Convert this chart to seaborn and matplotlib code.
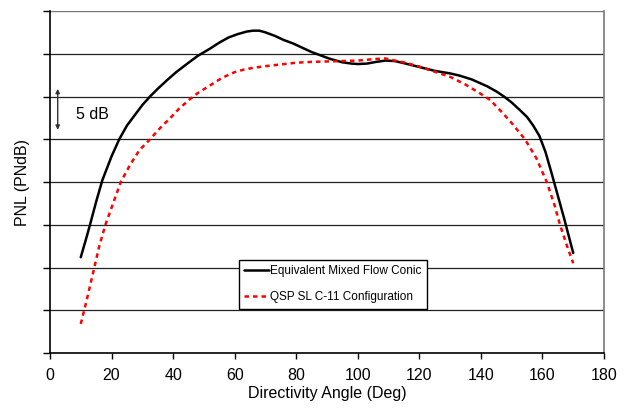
import numpy as np
import pandas as pd
import matplotlib
matplotlib.use("Agg")
import matplotlib.pyplot as plt
import seaborn as sns

# Directivity angles (deg) and relative PNL levels (dB) for each configuration
conic_angle = [10, 12, 13, 15, 17, 20, 22.5, 25, 27.5, 30, 32.5, 35, 38, 41,
               45, 48, 52, 55, 58, 61, 64, 66, 68, 70, 73, 76, 79, 82, 85, 88,
               91, 95, 98, 100, 103, 106, 109, 112, 115, 120, 125, 130, 133,
               137, 142, 145, 147.5, 150, 153, 155, 157, 159, 161, 163, 165,
               167, 170]
conic_pnl = [11.2, 13.7, 15.0, 17.7, 20.2, 23.0, 25.0, 26.6, 27.8, 29.0, 30.0,
             30.9, 31.9, 32.85, 33.95, 34.75, 35.6, 36.3, 36.9, 37.3, 37.6,
             37.7, 37.7, 37.5, 37.1, 36.6, 36.2, 35.7, 35.2, 34.8, 34.4, 34.0,
             33.85, 33.8, 33.85, 34.05, 34.2, 34.15, 33.9, 33.45, 33.0, 32.7,
             32.45, 32.0, 31.2, 30.6, 30.0, 29.3, 28.3, 27.6, 26.6, 25.4, 23.5,
             21.0, 18.4, 15.8, 11.7]

qsp_angle = [10, 12, 14.4, 16, 18, 20, 23, 26, 29, 32.5, 36, 39, 42, 45.5, 48,
             52, 56, 60, 63, 66, 70, 75, 80, 85, 90, 95, 100, 103, 106, 109,
             112, 115, 120, 125, 130, 135, 140, 143, 147, 150, 154.3, 158,
             161.4, 164, 165.7, 168, 170]
qsp_pnl = [3.4, 6.3, 10.0, 12.5, 15.0, 17.0, 20.0, 22.0, 23.7, 25.0, 26.4,
           27.45, 28.6, 29.7, 30.4, 31.3, 32.2, 32.85, 33.15, 33.35, 33.55,
           33.75, 33.95, 34.05, 34.1, 34.15, 34.2, 34.3, 34.4, 34.45, 34.2,
           34.0, 33.5, 32.9, 32.3, 31.4, 30.3, 29.6, 28.1, 26.9, 25.0, 22.8,
           20.0, 17.2, 15.0, 12.5, 10.5]

series_names = ["Equivalent Mixed Flow Conic", "QSP SL C-11 Configuration"]
x_ticks = [0, 20, 40, 60, 80, 100, 120, 140, 160, 180]
y_grid = [0, 5, 10, 15, 20, 25, 30, 35, 40]

df = pd.concat([
    pd.DataFrame({"angle": conic_angle, "pnl": conic_pnl, "series": series_names[0]}),
    pd.DataFrame({"angle": qsp_angle, "pnl": qsp_pnl, "series": series_names[1]}),
])

sns.set_style("white")
plt.rcParams["font.family"] = ["Liberation Sans", "DejaVu Sans"]
plt.rcParams.update({"text.color": "black", "axes.labelcolor": "black",
                     "xtick.color": "black", "ytick.color": "black"})

fig = plt.figure(figsize=(6.25, 4.08), dpi=100)
ax = fig.add_axes([50 / 625, 1 - 353 / 408, 554 / 625, 342 / 408])

for yv in y_grid[1:-1]:
    ax.axhline(yv, color="#222222", lw=0.9, zorder=1)
ax.axhline(40, color="#777777", lw=1.0, zorder=1)

sns.lineplot(data=df, x="angle", y="pnl", hue="series", style="series",
             palette={series_names[0]: "black", series_names[1]: "#ff0000"},
             dashes={series_names[0]: "", series_names[1]: (1.8, 1.6)},
             linewidth=1.8, sort=False, estimator=None, ax=ax, zorder=3)

ax.set_xlim(0, 180)
ax.set_ylim(0, 40)
ax.set_xticks(x_ticks)
ax.set_yticks(y_grid)
ax.set_yticklabels([])
ax.tick_params(axis="x", direction="out", length=4, width=1,
               labelsize=11.5, pad=7)
ax.tick_params(axis="y", direction="out", length=5, width=1)
ax.tick_params(bottom=True, left=True)
ax.set_xlabel("Directivity Angle (Deg)", fontsize=11.5, labelpad=2)
ax.set_ylabel("PNL (PNdB)", fontsize=11.5, labelpad=6)

for side in ["left", "bottom"]:
    ax.spines[side].set_color("black")
    ax.spines[side].set_linewidth(1.2)
ax.spines["right"].set_color("#777777")
ax.spines["right"].set_linewidth(1.2)
ax.spines["top"].set_visible(False)

# 5 dB scale marker
ax.annotate("", xy=(2.5, 30.9), xytext=(2.5, 26.1),
            arrowprops=dict(arrowstyle="<|-|>", color="#333333", lw=1.0,
                            mutation_scale=6, shrinkA=0, shrinkB=0))
ax.text(8.5, 27.9, "5 dB", fontsize=11.5, va="center", ha="left")

leg = ax.legend(loc="upper left", bbox_to_anchor=((238.5 - 50) / 554, (353 - 260) / 342),
                fontsize=8.5, frameon=True, fancybox=False, edgecolor="black",
                framealpha=1, handlelength=2.1, handletextpad=0.15,
                borderpad=0.45, labelspacing=1.2, borderaxespad=0)
leg.get_frame().set_linewidth(1.0)
leg.set_title(None)

fig.savefig("out.png", dpi=100)
